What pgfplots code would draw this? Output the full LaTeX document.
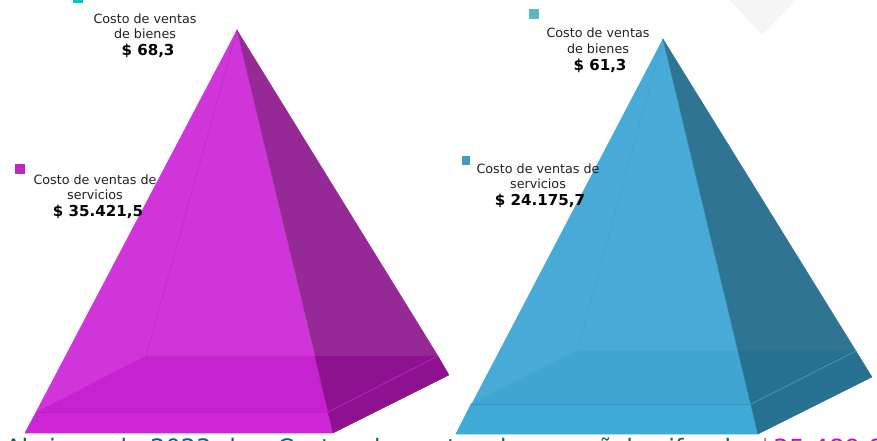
\documentclass[border=0pt]{standalone}
\usepackage{fontspec}
\setmainfont{DejaVu Sans}
\usepackage{pgfplots}
\pgfplotsset{compat=1.18}

% magenta pyramid
\definecolor{mFront}{HTML}{D035D9}
\definecolor{mFloor}{HTML}{C722CF}
\definecolor{mBand}{HTML}{CE26D6}
\definecolor{mRight}{HTML}{952995}
\definecolor{mRightLow}{HTML}{8C1290}
% blue pyramid
\definecolor{bFront}{HTML}{48AAD6}
\definecolor{bFloor}{HTML}{40A5D0}
\definecolor{bBand}{HTML}{3FAAD6}
\definecolor{bRight}{HTML}{2F7593}
\definecolor{bRightLow}{HTML}{267090}
\definecolor{bottomteal}{HTML}{0F6464}
\definecolor{bottommag}{HTML}{B01FB5}

\newcommand{\lbl}[1]{\fontsize{9.55pt}{11pt}\selectfont\color[HTML]{222222}#1}
\newcommand{\val}[1]{\fontsize{11.3pt}{13pt}\selectfont\bfseries\color{black}#1}

\tikzset{
  face/.style={fill=#1, draw=#1, line width=0.25pt},
  bottomtxt/.style={anchor=base west, inner sep=0pt, font=\fontsize{18pt}{20pt}\selectfont, text=bottomteal}
}

\begin{document}
\begin{tikzpicture}
\path[use as bounding box, clip] (0,0) rectangle (657.75pt,330.75pt);
\begin{axis}[
  at={(0,0)}, anchor=south west,
  scale only axis, width=657.75pt, height=330.75pt,
  xmin=0, xmax=877, ymin=0, ymax=441, y dir=reverse,
  axis lines=none, clip=false
]
% faint watermark
\addplot[fill=black!4, draw=none] coordinates {(728,-2) (798,-2) (762,35)} -- cycle;

% left pyramid
\addplot[face=mFront] coordinates {(237,30) (25,433) (333,433)} -- cycle;
\addplot[face=mFloor] coordinates {(37,412) (328,412) (315,356) (146,356)} -- cycle;
\addplot[face=mBand] coordinates {(25,433) (333,433) (328,412) (37,412)} -- cycle;
\addplot[face=mRight] coordinates {(237,30) (315,356) (438,356)} -- cycle;
\addplot[face=mRightLow] coordinates {(315,356) (333,433) (449,375) (438,356)} -- cycle;
\addplot[mFloor, line width=0.4pt] coordinates {(237,30) (146,356)};
\addplot[mBand!90!black, line width=0.3pt] coordinates {(37,412) (328,412)};
\addplot[mBand, line width=0.4pt] coordinates {(328,412) (438,356)};

% right pyramid
\addplot[face=bFront] coordinates {(663,39) (456,434) (758,434)} -- cycle;
\addplot[face=bFloor] coordinates {(471,404) (751,404) (738,351) (577,351)} -- cycle;
\addplot[face=bBand] coordinates {(456,434) (758,434) (751,404) (471,404)} -- cycle;
\addplot[face=bRight] coordinates {(663,39) (738,351) (856,351)} -- cycle;
\addplot[face=bRightLow] coordinates {(738,351) (758,434) (872,377) (856,351)} -- cycle;
\addplot[bFloor, line width=0.4pt] coordinates {(663,39) (577,351)};
\addplot[bBand!85!black, line width=0.4pt] coordinates {(471,404) (751,404)};
\addplot[bBand, line width=0.4pt] coordinates {(751,404) (856,351)};

% legend squares
\addplot[fill={rgb,255:red,0;green,200;blue,200}, draw=none] coordinates {(73,-3) (83,-3) (83,3) (73,3)} -- cycle;
\addplot[fill={rgb,255:red,192;green,38;blue,192}, draw=none] coordinates {(15,164) (25,164) (25,174) (15,174)} -- cycle;
\addplot[fill={rgb,255:red,91;green,184;blue,196}, draw=none] coordinates {(529,9) (539,9) (539,19) (529,19)} -- cycle;
\addplot[fill={rgb,255:red,63;green,157;blue,197}, draw=none] coordinates {(462,156) (470,156) (470,165) (462,165)} -- cycle;

% labels
\node at (axis cs:145,19) {\lbl{Costo de ventas}};
\node at (axis cs:145,34) {\lbl{de bienes}};
\node at (axis cs:148,51) {\val{\$ 68,3}};
\node at (axis cs:95,180) {\lbl{Costo de ventas de}};
\node at (axis cs:95,195) {\lbl{servicios}};
\node at (axis cs:98,212) {\val{\$ 35.421,5}};
\node at (axis cs:598,33) {\lbl{Costo de ventas}};
\node at (axis cs:598,49) {\lbl{de bienes}};
\node at (axis cs:600,66) {\val{\$ 61,3}};
\node at (axis cs:538,169) {\lbl{Costo de ventas de}};
\node at (axis cs:538,184) {\lbl{servicios}};
\node at (axis cs:540,201) {\val{\$ 24.175,7}};

% bottom sentence, cut by the page edge as in the source
\node[bottomtxt] at (axis cs:5,456.5) {Al cierre de};
\node[bottomtxt] at (axis cs:150,456.5) {2023};
\node[bottomtxt] at (axis cs:229,456.5) {los};
\node[bottomtxt] at (axis cs:277,456.5) {Costos de ventas de};
\node[bottomtxt] at (axis cs:533,456.5) {ese año};
\node[bottomtxt] at (axis cs:626,456.5) {la cifra de};
\node[bottomtxt, font=\fontsize{18.75pt}{20pt}\selectfont, text=bottommag] at (axis cs:757,457) {\$35.489,8};
\end{axis}
\end{tikzpicture}
\end{document}
